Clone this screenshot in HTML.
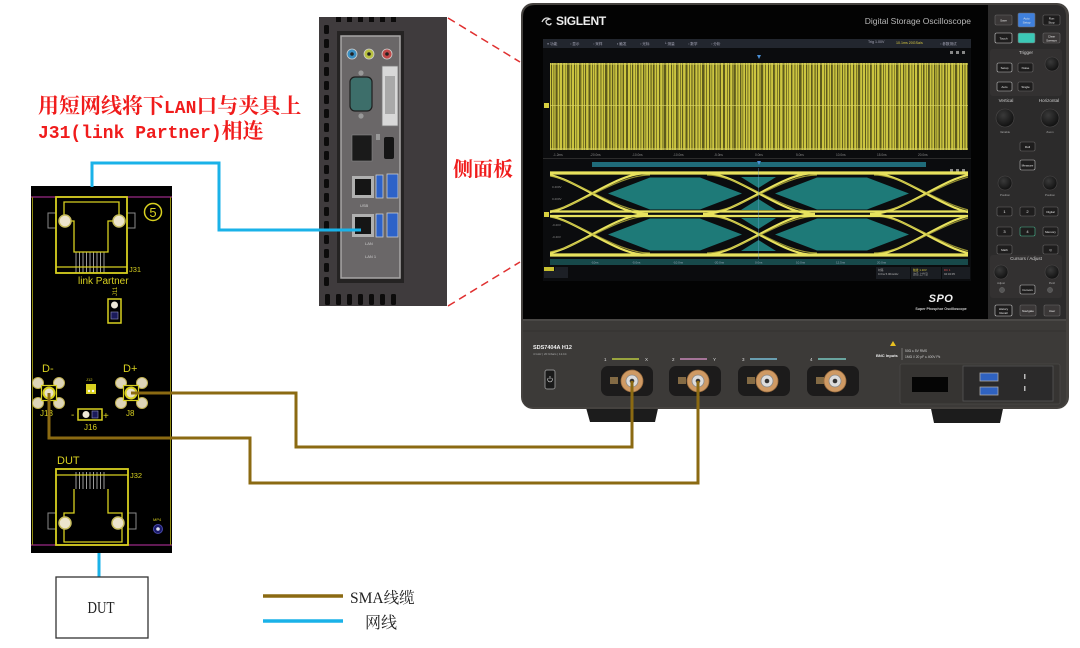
<!DOCTYPE html>
<html><head><meta charset="utf-8">
<style>
html,body{margin:0;padding:0;background:#fff;}
svg{display:block;}
</style></head><body>
<svg width="1080" height="648" viewBox="0 0 1080 648" xmlns="http://www.w3.org/2000/svg" font-family="'Liberation Sans',sans-serif">
<defs>
  <pattern id="wf" x="550" y="63" width="97" height="87" patternUnits="userSpaceOnUse">
    <rect x="0" y="0" width="97" height="87" fill="#ccc540"/>
    <g fill="#5d5a1c">
      <rect x="1" y="0" width="1" height="87"/><rect x="3.5" y="0" width="0.8" height="87"/>
      <rect x="6" y="0" width="1.6" height="87"/><rect x="9" y="0" width="0.7" height="87"/>
      <rect x="12" y="0" width="1.2" height="87"/><rect x="15.5" y="0" width="0.6" height="87"/>
      <rect x="17" y="0" width="2.2" height="87"/><rect x="21" y="0" width="0.8" height="87"/>
      <rect x="24" y="0" width="1" height="87"/><rect x="26.5" y="0" width="0.6" height="87"/>
      <rect x="29" y="0" width="1.8" height="87"/><rect x="33" y="0" width="0.7" height="87"/>
      <rect x="35" y="0" width="1.1" height="87"/><rect x="38.5" y="0" width="2" height="87"/>
      <rect x="42" y="0" width="0.8" height="87"/><rect x="44" y="0" width="0.6" height="87"/>
      <rect x="47" y="0" width="1.4" height="87"/><rect x="50.5" y="0" width="0.9" height="87"/>
      <rect x="53" y="0" width="0.6" height="87"/><rect x="55" y="0" width="2.4" height="87"/>
      <rect x="59" y="0" width="0.8" height="87"/><rect x="62" y="0" width="1.2" height="87"/>
      <rect x="64.5" y="0" width="0.7" height="87"/><rect x="67" y="0" width="1.6" height="87"/>
      <rect x="70.5" y="0" width="0.8" height="87"/><rect x="73" y="0" width="1" height="87"/>
      <rect x="76" y="0" width="2" height="87"/><rect x="80" y="0" width="0.7" height="87"/>
      <rect x="82" y="0" width="1.2" height="87"/><rect x="85" y="0" width="0.6" height="87"/>
      <rect x="87" y="0" width="1.8" height="87"/><rect x="90.5" y="0" width="0.8" height="87"/>
      <rect x="93" y="0" width="1.3" height="87"/><rect x="95.5" y="0" width="0.7" height="87"/>
    </g>
  </pattern>
  <pattern id="wf2" x="550" y="63" width="41" height="87" patternUnits="userSpaceOnUse">
    <rect x="5" y="0" width="0.8" height="87" fill="#6a6620" opacity="0.6"/>
    <rect x="19" y="0" width="1.2" height="87" fill="#6a6620" opacity="0.6"/>
    <rect x="31" y="0" width="0.7" height="87" fill="#6a6620" opacity="0.6"/>
  </pattern>
  <clipPath id="eyeclip"><rect x="550" y="168" width="418" height="92"/></clipPath>
  <radialGradient id="knob" cx="0.4" cy="0.35" r="0.7">
    <stop offset="0" stop-color="#3a3a3a"/><stop offset="1" stop-color="#0e0e0e"/>
  </radialGradient>
</defs>

<rect width="1080" height="648" fill="#fff"/>

<!-- Red annotation text -->
<text x="38" y="113" fill="#f01c1c" font-size="21" font-weight="bold" font-family="'Liberation Serif','Noto Serif CJK SC',serif">用短网线将下<tspan font-family="'Liberation Mono',monospace" font-size="18">LAN</tspan>口与夹具上</text>
<text x="38" y="138" fill="#f01c1c" font-size="21" font-weight="bold" font-family="'Liberation Serif','Noto Serif CJK SC',serif"><tspan font-family="'Liberation Mono',monospace" font-size="18">J31(link Partner)</tspan>相连</text>

<!-- Side panel photo -->
<rect x="319" y="17" width="128" height="289" fill="#3f3b3d"/>
<g fill="#0c0b0b">
  <rect x="324" y="25" width="5" height="9" rx="1.5"/><rect x="324" y="39" width="5" height="9" rx="1.5"/>
  <rect x="324" y="53" width="5" height="9" rx="1.5"/><rect x="324" y="67" width="5" height="9" rx="1.5"/>
  <rect x="324" y="81" width="5" height="9" rx="1.5"/><rect x="324" y="95" width="5" height="9" rx="1.5"/>
  <rect x="324" y="109" width="5" height="9" rx="1.5"/><rect x="324" y="123" width="5" height="9" rx="1.5"/>
  <rect x="324" y="137" width="5" height="9" rx="1.5"/><rect x="324" y="151" width="5" height="9" rx="1.5"/>
  <rect x="324" y="165" width="5" height="9" rx="1.5"/><rect x="324" y="179" width="5" height="9" rx="1.5"/>
  <rect x="324" y="193" width="5" height="9" rx="1.5"/><rect x="324" y="207" width="5" height="9" rx="1.5"/>
  <rect x="324" y="221" width="5" height="9" rx="1.5"/><rect x="324" y="235" width="5" height="9" rx="1.5"/>
  <rect x="324" y="249" width="5" height="9" rx="1.5"/><rect x="324" y="263" width="5" height="9" rx="1.5"/>
  <rect x="324" y="277" width="5" height="9" rx="1.5"/>
  <rect x="325" y="294" width="5" height="11" rx="1.5"/><rect x="336" y="294" width="5" height="11" rx="1.5"/>
  <rect x="347" y="294" width="5" height="11" rx="1.5"/><rect x="358" y="294" width="5" height="11" rx="1.5"/>
  <rect x="369" y="294" width="5" height="11" rx="1.5"/><rect x="380" y="294" width="5" height="11" rx="1.5"/>
  <rect x="391" y="294" width="5" height="11" rx="1.5"/>
  <rect x="336" y="17" width="5" height="5"/><rect x="347" y="17" width="5" height="5"/>
  <rect x="358" y="17" width="5" height="5"/><rect x="369" y="17" width="5" height="5"/>
  <rect x="380" y="17" width="5" height="5"/><rect x="391" y="17" width="5" height="5"/>
</g>
<rect x="337" y="31" width="67" height="252" fill="#252323"/>
<rect x="341" y="36" width="59" height="242" fill="#6a6768" stroke="#a8a6a6" stroke-width="1.5"/>
<circle cx="352" cy="54" r="5" fill="#3a8ec0" stroke="#cfcfcf" stroke-width="0.8"/><circle cx="352" cy="54" r="1.8" fill="#222"/>
<circle cx="369" cy="54" r="5" fill="#b8c040" stroke="#cfcfcf" stroke-width="0.8"/><circle cx="369" cy="54" r="1.8" fill="#222"/>
<circle cx="387" cy="54" r="5" fill="#c04848" stroke="#cfcfcf" stroke-width="0.8"/><circle cx="387" cy="54" r="1.8" fill="#222"/>
<circle cx="361" cy="73" r="2.6" fill="#999"/><circle cx="361" cy="116" r="2.6" fill="#999"/>
<rect x="350" y="77" width="22" height="34" rx="5" fill="#3d6e6a" stroke="#1e1e1e" stroke-width="1.2"/>
<rect x="382" y="66" width="16" height="60" fill="#d8d8d8" stroke="#777" stroke-width="0.8"/>
<rect x="385" y="76" width="10" height="38" fill="#a9a9a9"/>
<rect x="352" y="135" width="20" height="26" fill="#1a1a1a" stroke="#888" stroke-width="0.6"/>
<rect x="384" y="137" width="10" height="22" rx="2" fill="#151515"/>
<rect x="376" y="134" width="4" height="6" fill="#999"/>
<rect x="352" y="176" width="22" height="22" fill="#b0b0b0"/><rect x="355" y="179" width="16" height="16" fill="#151515"/>
<rect x="376" y="175" width="7" height="23" fill="#2d62c8" stroke="#ccc" stroke-width="0.8"/>
<rect x="387" y="174" width="11" height="24" fill="#2d62c8" stroke="#ccc" stroke-width="0.8"/>
<rect x="352" y="214" width="22" height="23" fill="#b0b0b0"/><rect x="355" y="217" width="16" height="17" fill="#151515"/>
<rect x="376" y="214" width="7" height="23" fill="#2d62c8" stroke="#ccc" stroke-width="0.8"/>
<rect x="387" y="213" width="11" height="24" fill="#2d62c8" stroke="#ccc" stroke-width="0.8"/>
<text x="360" y="207" font-size="4" fill="#ccc">USB</text>
<text x="365" y="245" font-size="4" fill="#ccc">LAN</text>
<text x="365" y="258" font-size="4" fill="#ccc">LAN 1</text>

<!-- dashed lines -->
<line x1="448" y1="18" x2="520" y2="62" stroke="#e03030" stroke-width="1.5" stroke-dasharray="8,5"/>
<line x1="448" y1="306" x2="520" y2="262" stroke="#e03030" stroke-width="1.5" stroke-dasharray="8,5"/>
<text x="453" y="176" fill="#f01c1c" font-size="20" font-weight="bold" font-family="'Liberation Serif','Noto Serif CJK SC',serif">侧面板</text>

<!-- ========== Oscilloscope ========== -->
<path d="M585,404 L659,404 L655,422 L590,422 Z" fill="#1c1c1c"/>
<path d="M930,404 L1004,404 L1000,423 L934,423 Z" fill="#1c1c1c"/>
<rect x="521" y="3" width="548" height="406" rx="12" fill="#45423f"/>
<path d="M523,17 Q523,5 535,5 L988,5 L988,319 L523,319 Z" fill="#030303"/>
<path d="M988,5 L1055,5 Q1066,5 1066,16 L1066,323 L988,323 Z" fill="#2c2b2b"/>
<path d="M523,319 L1066,319 L1066,398 Q1066,407 1057,407 L532,407 Q523,407 523,398 Z" fill="#3c3a38"/>
<line x1="523" y1="320" x2="1066" y2="320" stroke="#575553" stroke-width="1"/>
<line x1="523" y1="331" x2="1066" y2="331" stroke="#34322f" stroke-width="1"/>

<!-- screen header -->
<path d="M542,22 q3,-6 8,-3 q-6,1 -3,5 q4,2 4,-1" stroke="#ddd" stroke-width="1.3" fill="none"/>
<text x="556" y="25" font-size="12" font-weight="bold" fill="#eeeeee" letter-spacing="-0.3">SIGLENT</text>
<text x="971" y="24" font-size="8.5" fill="#b8b8b8" text-anchor="end">Digital Storage Oscilloscope</text>

<!-- display -->
<rect x="543" y="39" width="428" height="242" fill="#0b0c0e"/>
<rect x="543" y="39" width="428" height="9" fill="#22262e"/>
<g font-size="3.6" fill="#aab" font-family="'Liberation Sans','Noto Sans CJK SC',sans-serif">
  <text x="547" y="45">≡ 功能</text><text x="570" y="45">▫ 显示</text><text x="593" y="45">▫ 采样</text>
  <text x="617" y="45">▪ 触发</text><text x="640" y="45">▫ 光标</text><text x="664" y="45">└ 测量</text>
  <text x="688" y="45">▫ 数学</text><text x="711" y="45">▫ 分析</text>
  <text x="868" y="43">Trig 1.00V</text><text x="896" y="44" fill="#d8c840">10.1ms 20GSa/s</text>
  <text x="940" y="45">▫ 参数测试</text>
</g>
<g fill="#888"><rect x="950" y="51" width="3" height="3"/><rect x="956" y="51" width="3" height="3"/><rect x="962" y="51" width="3" height="3"/>
<rect x="950" y="169" width="3" height="3"/><rect x="956" y="169" width="3" height="3"/><rect x="962" y="169" width="3" height="3"/></g>
<path d="M757,55 l2,4 l2,-4 z" fill="#4a90d8"/>
<rect x="550" y="63" width="418" height="87" fill="url(#wf)"/>
<rect x="550" y="63" width="418" height="87" fill="url(#wf2)"/>
<line x1="550" y1="64" x2="968" y2="64" stroke="#d8d260" stroke-width="1"/>
<line x1="550" y1="149" x2="968" y2="149" stroke="#d8d260" stroke-width="1"/>
<line x1="550" y1="105.5" x2="968" y2="105.5" stroke="#ded86a" stroke-width="0.8" opacity="0.8"/>
<rect x="544" y="103" width="5" height="5" fill="#d8d040"/>
<g font-size="3.2" fill="#8a8a8a">
  <text x="553" y="156">-1.2ms</text><text x="590" y="156">-20.0ns</text><text x="632" y="156">-10.0ns</text>
  <text x="673" y="156">-10.0ns</text><text x="714" y="156">-5.0ns</text><text x="755" y="156">0.0ns</text>
  <text x="796" y="156">5.0ns</text><text x="836" y="156">10.0ns</text><text x="877" y="156">15.0ns</text><text x="918" y="156">20.0ns</text>
</g>
<line x1="543" y1="158.5" x2="971" y2="158.5" stroke="#2c2c2c" stroke-width="1"/>
<rect x="592" y="162" width="334" height="5" fill="#1f6b79"/>
<path d="M757,161 l2,4 l2,-4 z" fill="#4a90d8"/>

<!-- eye diagram -->
<g clip-path="url(#eyeclip)">
  <g fill="#1e7a78">
    <polygon points="608,193.5 650,177.5 700,177.5 742,193.5 700,209.5 650,209.5"/>
    <polygon points="775,193.5 817,177.5 867,177.5 909,193.5 867,209.5 817,209.5"/>
    <polygon points="608,234.5 650,218.5 700,218.5 742,234.5 700,250.5 650,250.5"/>
    <polygon points="775,234.5 817,218.5 867,218.5 909,234.5 867,250.5 817,250.5"/>
    <polygon points="741,177 776,177 758.5,188"/>
    <polygon points="741,210 776,210 758.5,199"/>
    <polygon points="741,218 776,218 758.5,229"/>
    <polygon points="741,251 776,251 758.5,240"/>
  </g>
  <g fill="none" stroke="#e8e25e" stroke-width="2.2">
    <path d="M536,173 C572,173 612,214 648,214 M536,214 C572,214 612,173 648,173"/>
    <path d="M703,173 C739,173 779,214 815,214 M703,214 C739,214 779,173 815,173"/>
    <path d="M870,173 C906,173 946,214 982,214 M870,214 C906,214 946,173 982,173"/>
    <path d="M536,214 C572,214 612,255 648,255 M536,255 C572,255 612,214 648,214"/>
    <path d="M703,214 C739,214 779,255 815,255 M703,255 C739,255 779,214 815,214"/>
    <path d="M870,214 C906,214 946,255 982,255 M870,255 C906,255 946,214 982,214"/>
  </g>
  <g fill="none" stroke="#b8b23c" stroke-width="1.2" opacity="0.8">
    <path d="M540,175 C574,175 614,212 650,212 M540,212 C574,212 614,175 650,175"/>
    <path d="M707,175 C741,175 781,212 817,212 M707,212 C741,212 781,175 817,175"/>
    <path d="M874,175 C908,175 948,212 984,212 M874,212 C908,212 948,175 984,175"/>
    <path d="M540,216 C574,216 614,253 650,253 M540,253 C574,253 614,216 650,216"/>
    <path d="M707,216 C741,216 781,253 817,253 M707,253 C741,253 781,216 817,216"/>
    <path d="M874,216 C908,216 948,253 984,253 M874,253 C908,253 948,216 984,216"/>
  </g>
  <g stroke="#e8e25e">
    <line x1="550" y1="173" x2="968" y2="173" stroke-width="3.2"/>
    <line x1="550" y1="211.5" x2="968" y2="211.5" stroke-width="2.2"/>
    <line x1="550" y1="216" x2="968" y2="216" stroke-width="2.2"/>
    <line x1="550" y1="255" x2="968" y2="255" stroke-width="3.2"/>
  </g>
  <line x1="758.5" y1="168" x2="758.5" y2="260" stroke="#6aa8d8" stroke-width="0.5" opacity="0.7"/>
</g>
<rect x="544" y="212" width="5" height="5" fill="#d8d040"/>
<g font-size="3" fill="#8a8a8a"><text x="552" y="188">0.400V</text><text x="552" y="200">0.200V</text><text x="552" y="226">-0.20V</text><text x="552" y="238">-0.40V</text></g>
<rect x="550" y="259" width="418" height="6" fill="#17494a"/>
<g font-size="3" fill="#9ab"><text x="591" y="263.5">-10ns</text><text x="632" y="263.5">-5.0ns</text><text x="673" y="263.5">-10.0ns</text><text x="714" y="263.5">-20.0ns</text><text x="755" y="263.5">0.0ns</text><text x="796" y="263.5">10.0ns</text><text x="836" y="263.5">12.5ns</text><text x="877" y="263.5">20.0ns</text></g>
<rect x="544" y="267" width="10" height="4" fill="#c8c030"/>
<rect x="544" y="271" width="24" height="7" fill="#1d2026"/>
<rect x="555" y="267" width="13" height="4" fill="#1d2026"/>
<rect x="876" y="267" width="34" height="12" fill="#1a1d22"/>
<rect x="911" y="267" width="30" height="12" fill="#1a1d22"/>
<rect x="942" y="267" width="28" height="12" fill="#1a1d22"/>
<g font-size="2.8" fill="#b8b8b8"><text x="878" y="271">时基</text><text x="878" y="275">0.0ns 5.00ns/div</text><text x="913" y="271" fill="#d8c840">触发 1.10V</text><text x="913" y="275">边沿 上升沿</text><text x="944" y="271" fill="#e05050">DC 1</text><text x="944" y="275">04:32:05</text></g>

<!-- SPO -->
<text x="941" y="302" font-size="11" font-weight="bold" font-style="italic" fill="#f0f0f0" text-anchor="middle" letter-spacing="0.5">SPO</text>
<text x="941" y="310" font-size="3.6" font-weight="bold" fill="#cfcfcf" text-anchor="middle">Super Phosphor Oscilloscope</text>

<!-- right control panel -->
<g stroke="#6a6868" stroke-width="0.6">
  <rect x="990" y="49" width="72" height="47" rx="3" fill="#333131" stroke="none"/>
  <rect x="990" y="255" width="72" height="43" rx="3" fill="#333131" stroke="none"/>
  <rect x="995" y="15" width="17" height="10" rx="1.5" fill="#3b3838"/>
  <rect x="1018" y="13" width="17" height="14" rx="1.5" fill="#3f80dc"/>
  <rect x="1043" y="15" width="17" height="10" rx="1.5" fill="#1e1d1d"/>
  <rect x="995" y="33" width="17" height="10" rx="1.5" fill="#1e1d1d" stroke="#ccc"/>
  <rect x="1018" y="33" width="17" height="10" rx="1.5" fill="#3cc8b6"/>
  <rect x="1043" y="33" width="17" height="10" rx="1.5" fill="#3b3838"/>
  <rect x="997" y="63" width="15" height="9" rx="1.5" fill="#1e1d1d" stroke="#bbb"/>
  <rect x="1018" y="63" width="15" height="9" rx="1.5" fill="#1e1d1d"/>
  <rect x="997" y="82" width="15" height="9" rx="1.5" fill="#1e1d1d" stroke="#bbb"/>
  <rect x="1018" y="82" width="15" height="9" rx="1.5" fill="#1e1d1d"/>
  <rect x="1020" y="142" width="15" height="9" rx="1.5" fill="#1e1d1d"/>
  <rect x="1020" y="160" width="15" height="10" rx="1.5" fill="#1e1d1d" stroke="#bbb"/>
  <rect x="997" y="207" width="15" height="9" rx="1.5" fill="#1e1d1d"/>
  <rect x="1020" y="207" width="15" height="9" rx="1.5" fill="#1e1d1d"/>
  <rect x="1043" y="207" width="15" height="9" rx="1.5" fill="#1e1d1d"/>
  <rect x="997" y="227" width="15" height="9" rx="1.5" fill="#1e1d1d"/>
  <rect x="1020" y="227" width="15" height="9" rx="1.5" fill="#1e1d1d" stroke="#4ab890"/>
  <rect x="1043" y="227" width="15" height="9" rx="1.5" fill="#1e1d1d"/>
  <rect x="997" y="245" width="15" height="9" rx="1.5" fill="#1e1d1d"/>
  <rect x="1043" y="245" width="15" height="9" rx="1.5" fill="#1e1d1d"/>
  <rect x="1020" y="285" width="15" height="9" rx="1.5" fill="#1e1d1d" stroke="#bbb"/>
  <rect x="995" y="305" width="17" height="11" rx="1.5" fill="#1e1d1d" stroke="#ccc"/>
  <rect x="1020" y="305" width="16" height="11" rx="1.5" fill="#3b3838"/>
  <rect x="1044" y="305" width="16" height="11" rx="1.5" fill="#3b3838"/>
</g>
<g fill="url(#knob)" stroke="#4a4848" stroke-width="0.6">
  <circle cx="1052" cy="64" r="7"/>
  <circle cx="1005" cy="118" r="9"/><circle cx="1050" cy="118" r="9"/>
  <circle cx="1005" cy="183" r="7"/><circle cx="1050" cy="183" r="7"/>
  <circle cx="1001" cy="272" r="7"/><circle cx="1052" cy="272" r="7"/>
</g>
<circle cx="1002" cy="290" r="2.6" fill="#555" stroke="#777" stroke-width="0.4"/>
<circle cx="1050" cy="290" r="2.6" fill="#555" stroke="#777" stroke-width="0.4"/>
<g font-size="3" fill="#e8e8e8" text-anchor="middle">
  <text x="1003.5" y="21.5">Save</text><text x="1026.5" y="19.5">Auto</text><text x="1026.5" y="23.5">Setup</text>
  <text x="1051.5" y="19.5">Run</text><text x="1051.5" y="23.5">Stop</text>
  <text x="1003.5" y="39.5">Touch</text><text x="1051.5" y="37.5">Clear</text><text x="1051.5" y="41.5">Sweeps</text>
  <text x="1004.5" y="69">Setup</text><text x="1025.5" y="69">Noise</text>
  <text x="1004.5" y="88">Auto</text><text x="1025.5" y="88">Single</text>
  <text x="1027.5" y="148">Roll</text><text x="1027.5" y="166.5">Measure</text>
  <text x="1004.5" y="213" font-size="4">1</text><text x="1027.5" y="213" font-size="4">2</text><text x="1050.5" y="213">Digital</text>
  <text x="1004.5" y="233" font-size="4">3</text><text x="1027.5" y="233" font-size="4">4</text><text x="1050.5" y="233">Memory</text>
  <text x="1004.5" y="251">Math</text><text x="1050.5" y="251">Q</text>
  <text x="1027.5" y="291">Cursors</text>
  <text x="1003.5" y="310">History</text><text x="1003.5" y="314">Recall</text>
  <text x="1028" y="312">Navigate</text><text x="1052" y="312">User</text>
</g>
<g font-size="4.5" fill="#cfcfcf" text-anchor="middle">
  <text x="1026" y="54">Trigger</text>
  <text x="1006" y="102">Vertical</text><text x="1049" y="102">Horizontal</text>
  <text x="1026" y="260">Cursors / Adjust</text>
</g>
<g font-size="2.8" fill="#aaa" text-anchor="middle">
  <text x="1005" y="196">Position</text><text x="1050" y="196">Position</text>
  <text x="1005" y="133">Variable</text><text x="1050" y="133">Zoom</text>
  <text x="1001" y="284">Adjust</text><text x="1052" y="284">Push</text>
</g>

<!-- lower front -->
<text x="533" y="349" font-size="5.5" font-weight="bold" fill="#eeeeee">SDS7404A  H12</text>
<text x="533" y="355" font-size="3" fill="#aaaaaa">4 GHz | 20 GSa/s | 12-bit</text>
<rect x="545" y="370" width="10" height="19" rx="2" fill="#1a1a1a" stroke="#8a8a8a" stroke-width="1"/>
<path d="M548.3,378 a2.3,2.3 0 1 0 3.4,0" fill="none" stroke="#ddd" stroke-width="0.7"/>
<line x1="550" y1="376" x2="550" y2="379" stroke="#ddd" stroke-width="0.7"/>
<g font-size="4.5" fill="#ddd">
  <text x="604" y="361">1</text><text x="645" y="361">X</text>
  <text x="672" y="361">2</text><text x="713" y="361">Y</text>
  <text x="742" y="361">3</text><text x="810" y="361">4</text>
</g>
<line x1="612" y1="359" x2="639" y2="359" stroke="#b8c840" stroke-width="1.6"/>
<line x1="680" y1="359" x2="707" y2="359" stroke="#c888b8" stroke-width="1.6"/>
<line x1="750" y1="359" x2="777" y2="359" stroke="#78c0d8" stroke-width="1.6"/>
<line x1="818" y1="359" x2="846" y2="359" stroke="#78c8c0" stroke-width="1.6"/>
<g fill="#1c1b1b">
  <rect x="601" y="366" width="52" height="30" rx="7"/>
  <rect x="669" y="366" width="52" height="30" rx="7"/>
  <rect x="738" y="366" width="52" height="30" rx="7"/>
  <rect x="807" y="366" width="52" height="30" rx="7"/>
</g>
<g fill="#c8a060">
  <rect x="610" y="377" width="8" height="7" opacity="0.6"/>
  <rect x="678" y="377" width="8" height="7" opacity="0.6"/>
  <rect x="747" y="377" width="8" height="7" opacity="0.6"/>
  <rect x="816" y="377" width="8" height="7" opacity="0.6"/>
</g>
<g stroke="#9c6e40" stroke-width="0.8" fill="#cf9a64">
  <circle cx="632" cy="381" r="11"/><circle cx="698" cy="381" r="11"/>
  <circle cx="767" cy="381" r="11"/><circle cx="835" cy="381" r="11"/>
</g>
<g stroke="#888" stroke-width="0.8" fill="#dcdcdc">
  <circle cx="632" cy="381" r="6"/><circle cx="698" cy="381" r="6"/>
  <circle cx="767" cy="381" r="6"/><circle cx="835" cy="381" r="6"/>
</g>
<g fill="#333">
  <circle cx="632" cy="381" r="2.3"/><circle cx="698" cy="381" r="2.3"/>
  <circle cx="767" cy="381" r="2.3"/><circle cx="835" cy="381" r="2.3"/>
</g>
<path d="M893,341 l3,5 h-6 z" fill="#e8c020"/>
<text x="876" y="357" font-size="4" font-weight="bold" fill="#eee">BNC Inputs</text>
<line x1="902" y1="348" x2="902" y2="360" stroke="#aaa" stroke-width="0.5"/>
<text x="905" y="352" font-size="3.3" fill="#ccc">50Ω ≤ 5V RMS</text>
<text x="905" y="358" font-size="3.3" fill="#ccc">1MΩ // 20 pF ≤ 400V Pk</text>
<rect x="900" y="364" width="160" height="40" rx="2" fill="#363432" stroke="#4a4846" stroke-width="0.8"/>
<rect x="912" y="377" width="36" height="15" fill="#050505"/>
<rect x="963" y="366" width="90" height="35" fill="#2b2a2a" stroke="#555" stroke-width="0.8"/>
<rect x="980" y="373" width="18" height="8" fill="#2f62c0" stroke="#aaa" stroke-width="0.8"/>
<rect x="980" y="387" width="18" height="8" fill="#2f62c0" stroke="#aaa" stroke-width="0.8"/>
<rect x="1024" y="374" width="1.5" height="5" fill="#bbb"/>
<rect x="1024" y="386" width="1.5" height="5" fill="#bbb"/>

<!-- ========== PCB fixture board ========== -->
<rect x="31" y="186" width="141" height="367" fill="#000"/>
<line x1="31" y1="197" x2="172" y2="197" stroke="#9b2a86" stroke-width="1.2"/>
<line x1="31" y1="545" x2="172" y2="545" stroke="#9b2a86" stroke-width="1.2"/>
<line x1="32.5" y1="197" x2="32.5" y2="545" stroke="#8f8a10" stroke-width="1"/>
<line x1="170.5" y1="197" x2="170.5" y2="545" stroke="#8f8a10" stroke-width="1"/>

<!-- J31 -->
<rect x="48" y="213" width="8" height="15" fill="none" stroke="#8a8a8a" stroke-width="1"/>
<rect x="127" y="213" width="8" height="15" fill="none" stroke="#8a8a8a" stroke-width="1"/>
<g stroke="#9a9a9a" stroke-width="1">
  <line x1="76" y1="252" x2="76" y2="273"/><line x1="79.5" y1="252" x2="79.5" y2="273"/>
  <line x1="83" y1="252" x2="83" y2="273"/><line x1="86.5" y1="252" x2="86.5" y2="273"/>
  <line x1="90" y1="252" x2="90" y2="273"/><line x1="93.5" y1="252" x2="93.5" y2="273"/>
  <line x1="97" y1="252" x2="97" y2="273"/><line x1="100.5" y1="252" x2="100.5" y2="273"/>
  <line x1="104" y1="252" x2="104" y2="273"/>
</g>
<rect x="56" y="197" width="71" height="76" fill="none" stroke="#d8d020" stroke-width="1.8"/>
<line x1="56" y1="267" x2="127" y2="267" stroke="#d8d020" stroke-width="1.3"/>
<path d="M64,221 V202 H119 V221 M70,221 H74 V252 H108 V221 H113" fill="none" stroke="#d8d020" stroke-width="1.3"/>
<circle cx="65" cy="221" r="6" fill="#ece4cc" stroke="#c8bd60" stroke-width="1.5"/>
<circle cx="119" cy="221" r="6" fill="#ece4cc" stroke="#c8bd60" stroke-width="1.5"/>
<circle cx="153" cy="212" r="8.5" fill="none" stroke="#d8d020" stroke-width="1.5"/>
<text x="153" y="217" font-size="13" fill="#d8d020" text-anchor="middle">5</text>
<text x="129" y="272" font-size="7.5" fill="#d8d020">J31</text>
<text x="78" y="284" font-size="10" fill="#d8d020">link Partner</text>
<text x="0" y="0" font-size="6" fill="#d8d020" transform="translate(117,296) rotate(-90)">J11</text>
<rect x="108" y="299" width="13" height="24" fill="none" stroke="#d8d020" stroke-width="1.5"/>
<circle cx="114.5" cy="305" r="3.5" fill="#eee8d8"/>
<rect x="111" y="312" width="7" height="7" fill="#1a1a5a" stroke="#9090c0" stroke-width="0.6"/>

<!-- SMA J13 / J8 -->
<text x="42" y="372" font-size="11" fill="#d8d020">D-</text>
<text x="123" y="372" font-size="11" fill="#d8d020">D+</text>
<g fill="#ddd4b8" stroke="#c0b050" stroke-width="1">
  <circle cx="38" cy="383" r="5.5"/><circle cx="59" cy="383" r="5.5"/>
  <circle cx="38" cy="403" r="5.5"/><circle cx="59" cy="403" r="5.5"/>
  <circle cx="121" cy="383" r="5.5"/><circle cx="142" cy="383" r="5.5"/>
  <circle cx="121" cy="403" r="5.5"/><circle cx="142" cy="403" r="5.5"/>
</g>
<rect x="41.5" y="385.5" width="15" height="15" fill="#000" stroke="#d8d020" stroke-width="1.2"/>
<rect x="123.5" y="385.5" width="15" height="15" fill="#000" stroke="#d8d020" stroke-width="1.2"/>
<circle cx="49" cy="393" r="5.5" fill="#e8e0c8" stroke="#d8d020" stroke-width="2"/>
<circle cx="131" cy="393" r="5.5" fill="#e8e0c8" stroke="#d8d020" stroke-width="2"/>
<text x="40" y="416" font-size="8" fill="#d8d020">J13</text>
<text x="126" y="416" font-size="8" fill="#d8d020">J8</text>
<rect x="86" y="384" width="10" height="10" fill="#d8d020"/>
<circle cx="89" cy="391" r="1.2" fill="#fff"/><circle cx="93" cy="391" r="1.2" fill="#fff"/>
<text x="86" y="381" font-size="4" fill="#d8d020">J12</text>
<rect x="78" y="409" width="24" height="11" fill="none" stroke="#d8d020" stroke-width="1.5"/>
<circle cx="86" cy="414.5" r="3.5" fill="#eee8d8"/>
<rect x="92" y="411" width="6" height="7" fill="#1a1a5a" stroke="#9090c0" stroke-width="0.6"/>
<text x="71" y="418" font-size="10" fill="#d8d020">-</text>
<text x="103" y="419" font-size="10" fill="#d8d020">+</text>
<text x="84" y="430" font-size="8" fill="#d8d020">J16</text>

<!-- J32 -->
<text x="57" y="464" font-size="11" fill="#d8d020">DUT</text>
<rect x="48" y="513" width="8" height="16" fill="none" stroke="#8a8a8a" stroke-width="1"/>
<rect x="128" y="513" width="8" height="16" fill="none" stroke="#8a8a8a" stroke-width="1"/>
<g stroke="#9a9a9a" stroke-width="1">
  <line x1="76" y1="472" x2="76" y2="489"/><line x1="79.5" y1="472" x2="79.5" y2="489"/>
  <line x1="83" y1="472" x2="83" y2="489"/><line x1="86.5" y1="472" x2="86.5" y2="489"/>
  <line x1="90" y1="472" x2="90" y2="489"/><line x1="93.5" y1="472" x2="93.5" y2="489"/>
  <line x1="97" y1="472" x2="97" y2="489"/><line x1="100.5" y1="472" x2="100.5" y2="489"/>
  <line x1="104" y1="472" x2="104" y2="489"/>
</g>
<rect x="56" y="469" width="72" height="76" fill="none" stroke="#d8d020" stroke-width="1.8"/>
<line x1="56" y1="475" x2="128" y2="475" stroke="#d8d020" stroke-width="1.3"/>
<path d="M108,489 V513 H122 V542 H64 V513 H74 V489" fill="none" stroke="#d8d020" stroke-width="1.3"/>
<circle cx="65" cy="523" r="6" fill="#ece4cc" stroke="#c8bd60" stroke-width="1.5"/>
<circle cx="118" cy="523" r="6" fill="#ece4cc" stroke="#c8bd60" stroke-width="1.5"/>
<text x="130" y="478" font-size="7.5" fill="#d8d020">J32</text>
<text x="153" y="521" font-size="4" fill="#d8d020">MP4</text>
<circle cx="158" cy="529" r="4.5" fill="#1a1a6a" stroke="#4848a8" stroke-width="1"/>
<circle cx="158" cy="529" r="1.8" fill="#e0e0f0"/>

<!-- ========== Cables ========== -->
<polyline points="92,187 92,163 219,163 219,230 361,230" fill="none" stroke="#1ab2e8" stroke-width="3"/>
<line x1="99" y1="553" x2="99" y2="577" stroke="#1ab2e8" stroke-width="3"/>
<polyline points="131,393 296,393 296,447 632,447 632,381" fill="none" stroke="#8b6a12" stroke-width="3"/>
<polyline points="49,393 49,438 250,438 250,483 698,483 698,381" fill="none" stroke="#8b6a12" stroke-width="3"/>

<!-- DUT box -->
<rect x="56" y="577" width="92" height="61" fill="#fff" stroke="#333" stroke-width="1.3"/>
<text x="101" y="613" font-size="17" fill="#222" text-anchor="middle" textLength="27" lengthAdjust="spacingAndGlyphs" font-family="'Liberation Serif',serif">DUT</text>

<!-- legend -->
<line x1="263" y1="596" x2="343" y2="596" stroke="#8b6a12" stroke-width="3.5"/>
<line x1="263" y1="621" x2="343" y2="621" stroke="#1ab2e8" stroke-width="3.5"/>
<text x="350" y="603" font-size="15.5" fill="#222" font-family="'Liberation Serif','Noto Serif CJK SC',serif">SMA线缆</text>
<text x="365" y="628" font-size="16" fill="#222" font-family="'Liberation Serif','Noto Serif CJK SC',serif">网线</text>
</svg>
</body></html>
